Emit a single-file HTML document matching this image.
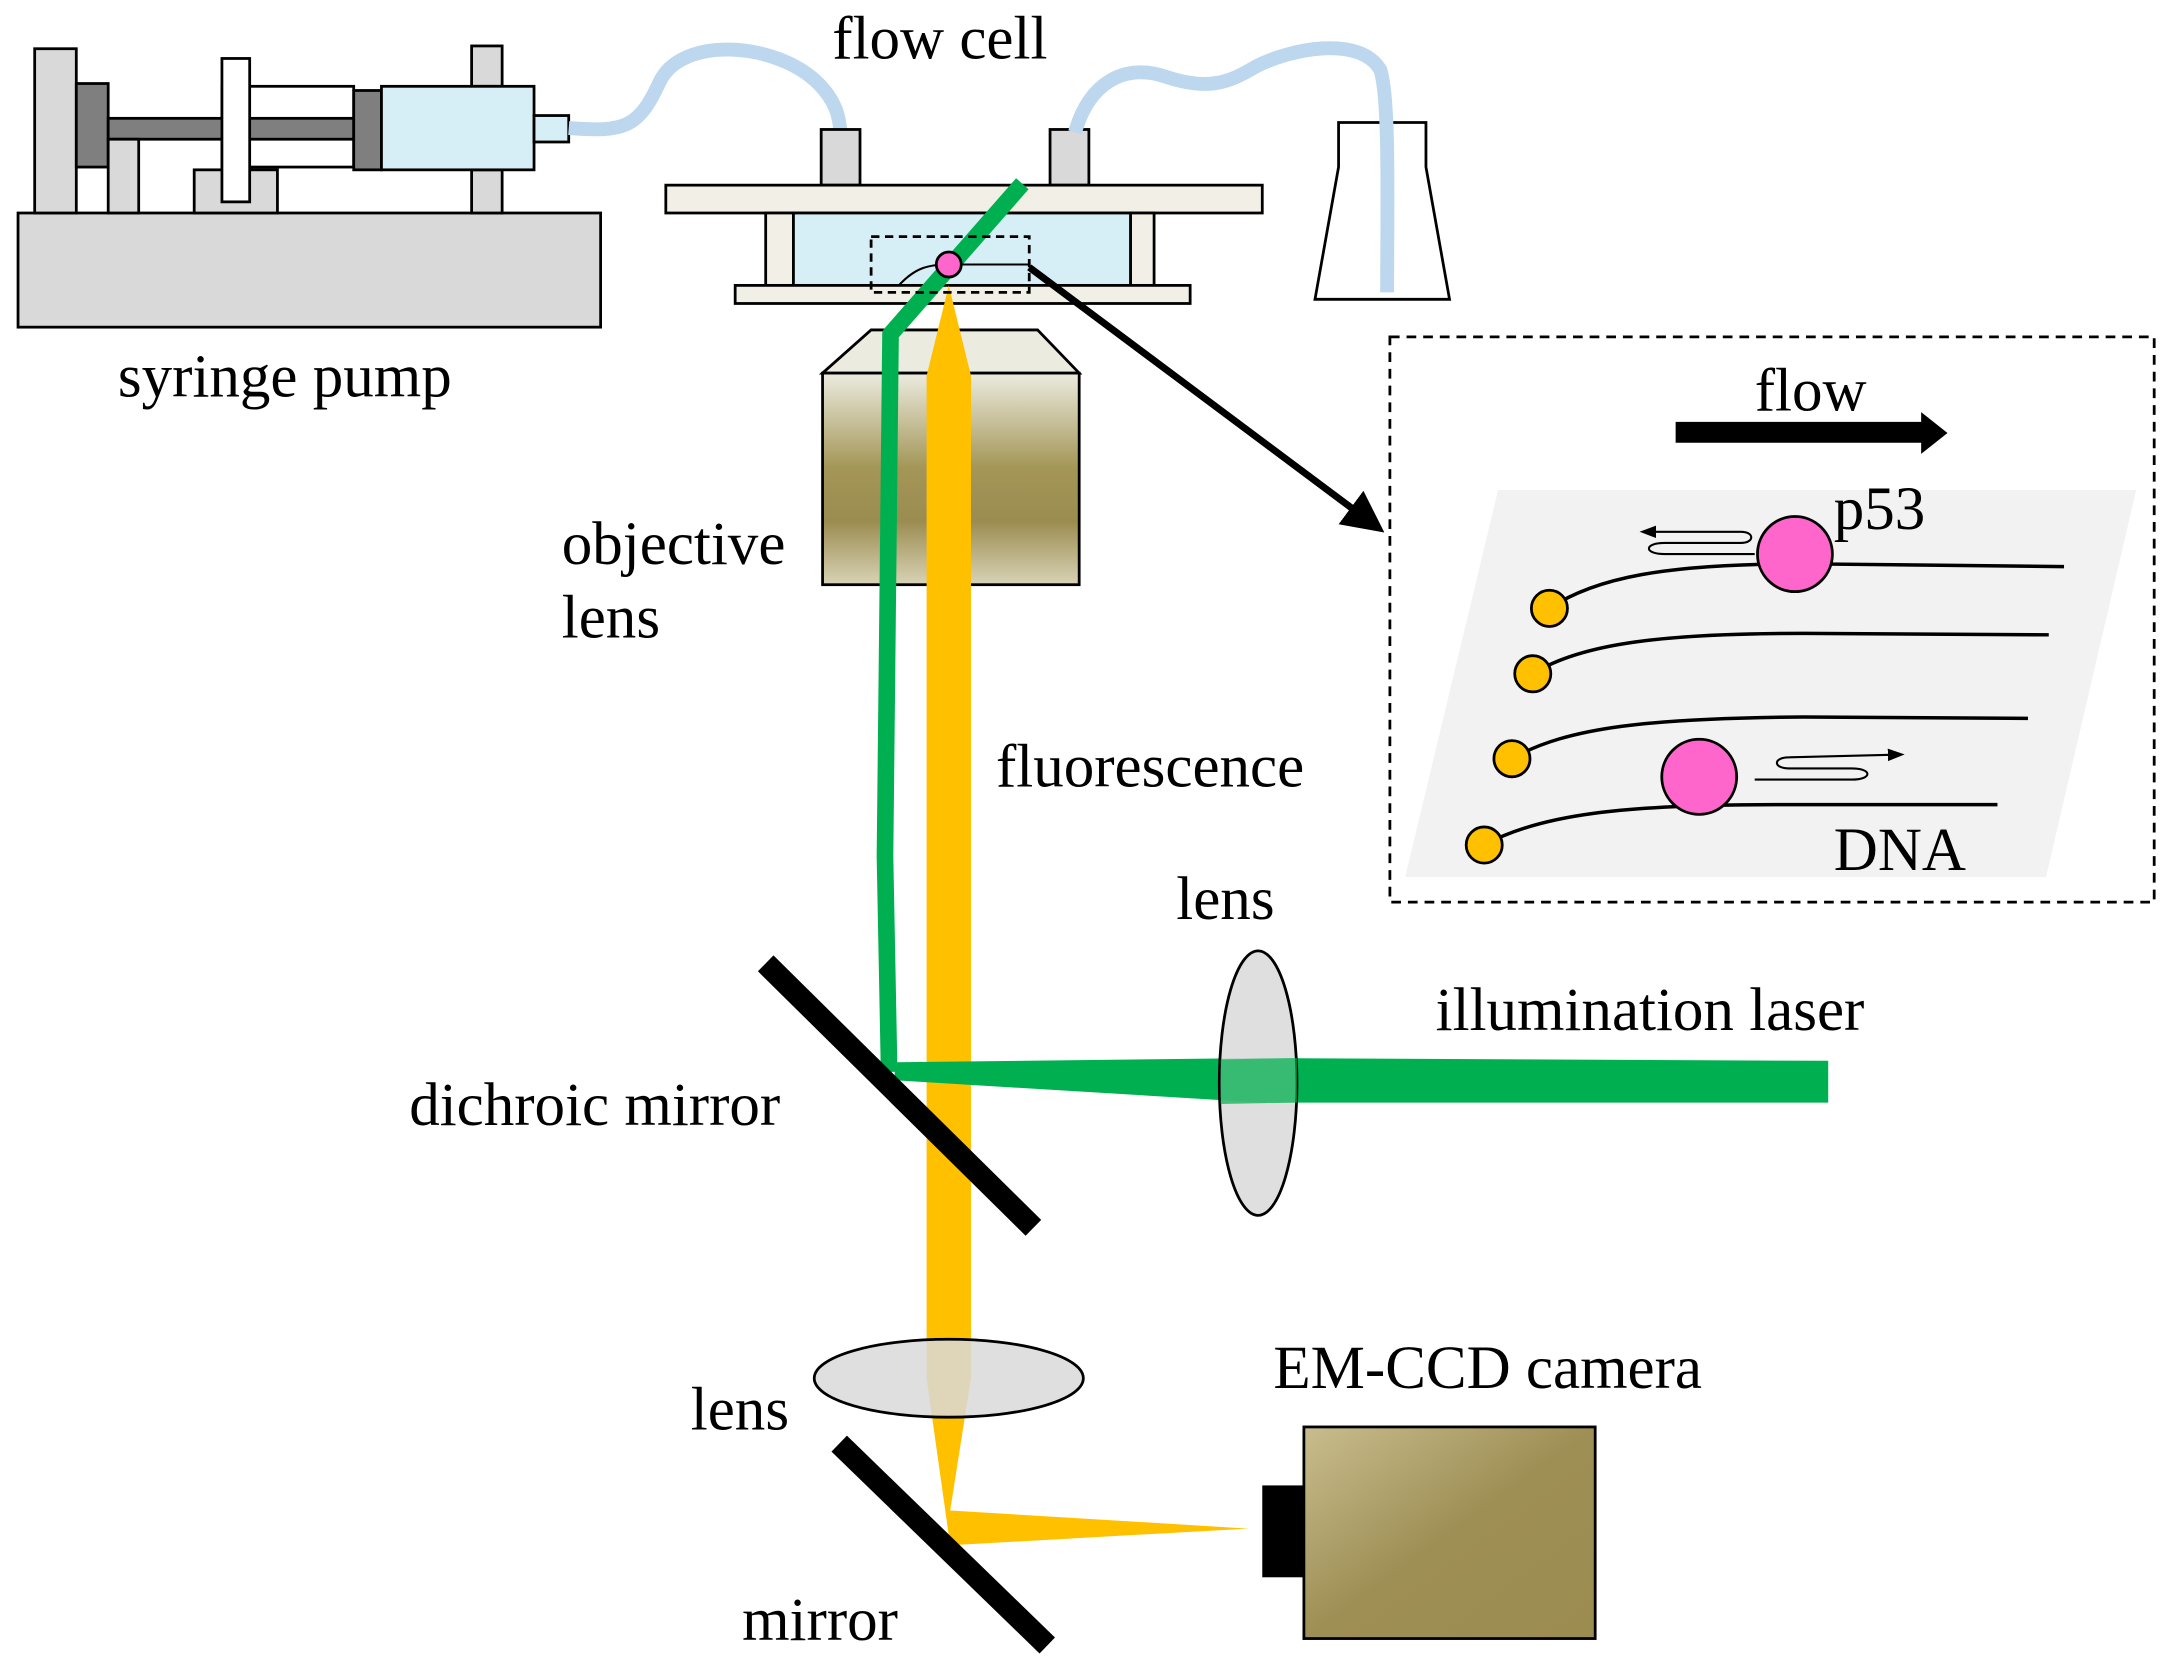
<!DOCTYPE html>
<html><head><meta charset="utf-8"><style>
html,body{margin:0;padding:0;background:#fff;}
svg{display:block;}
text{font-family:"Liberation Serif",serif;font-size:44px;fill:#000;}
</style></head><body>
<svg width="2175" height="1665" viewBox="0 0 1568 1196" preserveAspectRatio="none" xmlns="http://www.w3.org/2000/svg">
<defs>
<linearGradient id="obj" x1="0" y1="0" x2="0" y2="1">
<stop offset="0" stop-color="#ecebe0"/><stop offset="0.45" stop-color="#a39656"/><stop offset="0.7" stop-color="#9b8c50"/><stop offset="1" stop-color="#d8d3b6"/></linearGradient>
<linearGradient id="cam" x1="0" y1="0" x2="1" y2="1">
<stop offset="0" stop-color="#c9bd8e"/><stop offset="0.5" stop-color="#9e8f55"/><stop offset="1" stop-color="#9b8c50"/></linearGradient>
<marker id="ah" markerWidth="6" markerHeight="6" refX="4.5" refY="3" orient="auto" markerUnits="strokeWidth"><path d="M0,0 L6,3 L0,6 z" fill="#000"/></marker>
<marker id="sa" markerWidth="8" markerHeight="8" refX="6" refY="4" orient="auto" markerUnits="strokeWidth"><path d="M0,1 L8,4 L0,7 z" fill="#000"/></marker>
</defs>
<g stroke="#000" stroke-width="2">
<rect x="13" y="153" width="420" height="82" fill="#d9d9d9"/>
<rect x="25" y="35" width="30" height="118" fill="#d9d9d9"/>
<rect x="340" y="33" width="22" height="29" fill="#d9d9d9"/>
<rect x="340" y="122" width="22" height="31" fill="#d9d9d9"/>
<rect x="160" y="62" width="95" height="58" fill="#fff"/>
<rect x="55" y="60" width="23" height="60" fill="#7f7f7f"/>
<rect x="78" y="85" width="177" height="15" fill="#7f7f7f"/>
<rect x="78" y="100" width="22" height="53" fill="#d9d9d9"/>
<rect x="140" y="122" width="60" height="31" fill="#d9d9d9"/>
<rect x="160" y="42" width="20" height="103" fill="#fff"/>
<rect x="255" y="65" width="20" height="57" fill="#7f7f7f"/>
<rect x="275" y="62" width="110" height="60" fill="#d6eef5"/>
<rect x="385" y="83" width="25" height="19" fill="#d6eef5"/>
</g>
<path d="M410,92 C450,95 460,92 475,60 C490,25 560,30 590,60 C605,75 605,88 606,95" fill="none" stroke="#bdd7ee" stroke-width="10"/>
<g stroke="#000" stroke-width="2">
<rect x="592" y="93" width="28" height="40" fill="#d9d9d9"/>
<rect x="757" y="93" width="28" height="40" fill="#d9d9d9"/>
<rect x="480" y="133" width="430" height="20" fill="#f2f0e6"/>
<rect x="552" y="153" width="20" height="52" fill="#f2f0e6"/>
<rect x="815" y="153" width="17" height="52" fill="#f2f0e6"/>
<rect x="572" y="153" width="243" height="52" fill="#d6eef5"/>
<rect x="530" y="205" width="328" height="13" fill="#f2f0e6"/>
<polygon points="965,88 1028,88 1028,120 1045,215 948,215 965,120" fill="#fff"/>
</g>
<path d="M775,95 C785,60 810,45 840,55 C870,65 885,60 905,48 C930,35 980,25 995,50 C1002,70 1000,150 1000,210" fill="none" stroke="#bdd7ee" stroke-width="10"/>
<polygon points="593,268 628,237 748,237 778,268" fill="#ecebe0" stroke="#000" stroke-width="2"/>
<rect x="593" y="268" width="185" height="152" fill="url(#obj)" stroke="#000" stroke-width="2"/>
<polygon points="684,205 700,270 700,990 685,1085 900,1098 685,1110 668,990 668,270" fill="#ffc000"/>
<polyline points="737,132 642,240 638,615 641,770" fill="none" stroke="#00b050" stroke-width="12" stroke-linejoin="round"/>
<polygon points="645,763 910,760 1318,762 1318,792 910,792 645,776" fill="#00b050"/>
<rect x="628" y="170" width="114" height="40" fill="none" stroke="#000" stroke-width="2" stroke-dasharray="6,4"/>
<path d="M648,205 C660,192 670,190 684,190 L742,190" fill="none" stroke="#000" stroke-width="1.5"/>
<circle cx="684" cy="190" r="9" fill="#ff66cc" stroke="#000" stroke-width="2"/>
<line x1="552" y1="692" x2="745" y2="882" stroke="#000" stroke-width="16"/>
<line x1="605" y1="1037" x2="755" y2="1182" stroke="#000" stroke-width="16"/>
<ellipse cx="907" cy="778" rx="28" ry="95" fill="#d9d9d9" fill-opacity="0.85" stroke="#000" stroke-width="2"/>
<polygon points="880,761 935,760 935,792 880,793" fill="#00b050" opacity="0.7"/>
<ellipse cx="684" cy="990" rx="97" ry="28" fill="#d9d9d9" fill-opacity="0.85" stroke="#000" stroke-width="2"/>
<rect x="910" y="1067" width="32" height="66" fill="#000"/>
<rect x="940" y="1025" width="210" height="152" fill="url(#cam)" stroke="#000" stroke-width="2"/>
<line x1="742" y1="192" x2="992" y2="378" stroke="#000" stroke-width="5" marker-end="url(#ah)"/>
<rect x="1002" y="242" width="551" height="406" fill="#fff" stroke="#000" stroke-width="2" stroke-dasharray="7,5"/>
<polygon points="1080,352 1540,352 1475,630 1013,630" fill="#f2f2f2"/>
<polygon points="1208,303 1385,303 1385,296 1404,311 1385,326 1385,318 1208,318" fill="#000"/>
<g fill="none" stroke="#000" stroke-width="2.5">
<path d="M1117,437 C1150,415 1200,405 1300,405 L1488,407"/>
<path d="M1105,484 C1140,462 1200,455 1300,455 L1477,456"/>
<path d="M1090,545 C1130,522 1190,516 1300,515 L1462,516"/>
<path d="M1070,607 C1110,585 1170,578 1280,578 L1440,578"/>
</g>
<g fill="none" stroke="#000" stroke-width="1.5">
<path d="M1265,398 L1200,398 C1185,398 1185,390 1200,390 L1255,390 C1265,390 1265,382 1255,382 L1185,382" marker-end="url(#sa)"/>
<path d="M1265,560 L1335,560 C1350,560 1350,552 1335,552 L1290,552 C1278,552 1278,544 1290,544 L1370,542" marker-end="url(#sa)"/>
</g>
<g fill="#ffc000" stroke="#000" stroke-width="2">
<circle cx="1117" cy="437" r="13"/><circle cx="1105" cy="484" r="13"/><circle cx="1090" cy="545" r="13"/><circle cx="1070" cy="607" r="13"/>
</g>
<g fill="#ff66cc" stroke="#000" stroke-width="2">
<circle cx="1294" cy="398" r="27"/><circle cx="1225" cy="558" r="27"/>
</g>
<text x="600" y="42">flow cell</text>
<text x="85" y="285">syringe pump</text>
<text x="405" y="405">objective</text>
<text x="405" y="458">lens</text>
<text x="718" y="565">fluorescence</text>
<text x="848" y="660">lens</text>
<text x="1035" y="740">illumination laser</text>
<text x="295" y="808">dichroic mirror</text>
<text x="498" y="1027">lens</text>
<text x="918" y="997">EM-CCD camera</text>
<text x="535" y="1178">mirror</text>
<text x="1265" y="295">flow</text>
<text x="1322" y="380">p53</text>
<text x="1322" y="625">DNA</text>
</svg>
</body></html>
